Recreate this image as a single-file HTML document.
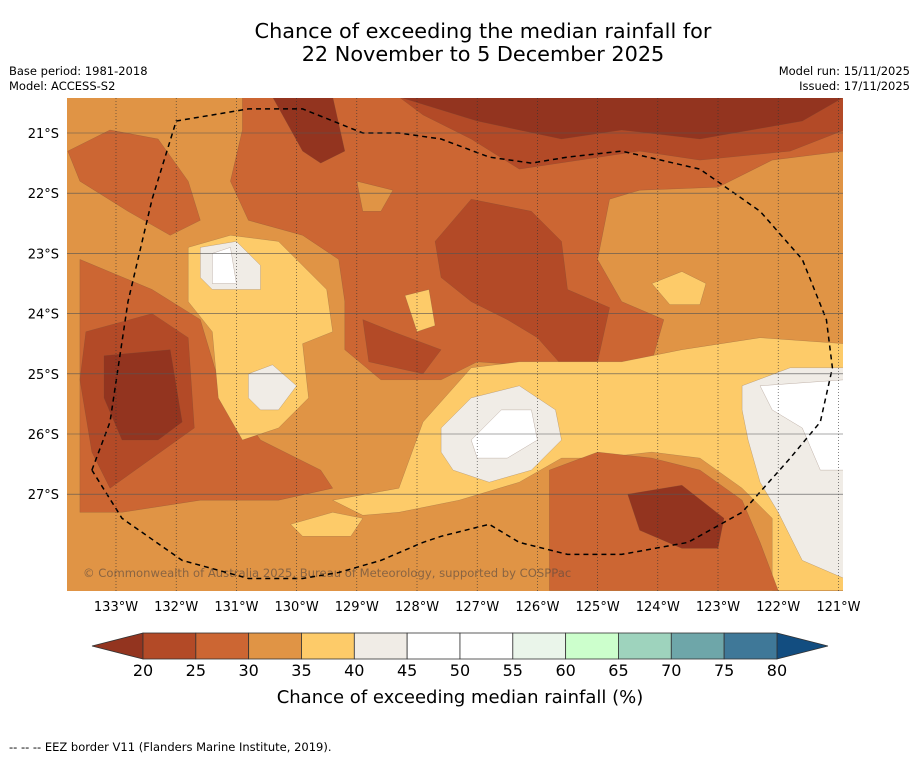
<!DOCTYPE html>
<html><head><meta charset="utf-8"><style>
body{margin:0;background:#fff;font-family:"DejaVu Sans","Liberation Sans",sans-serif}
svg{display:block}
text{font-family:"DejaVu Sans","Liberation Sans",sans-serif}
</style></head><body>
<svg id="chart" width="919" height="758" viewBox="0 0 919 758">
<text x="483" y="38" font-size="20.8" text-anchor="middle">Chance of exceeding the median rainfall for</text>
<text x="483" y="61" font-size="20.8" text-anchor="middle">22 November to 5 December 2025</text>
<text x="9" y="75" font-size="11.5">Base period: 1981-2018</text>
<text x="9" y="90" font-size="11.5">Model: ACCESS-S2</text>
<text x="910" y="75" font-size="11.5" text-anchor="end">Model run: 15/11/2025</text>
<text x="910" y="90" font-size="11.5" text-anchor="end">Issued: 17/11/2025</text>
<defs><clipPath id="mapclip"><rect x="67" y="98" width="776" height="493"/></clipPath></defs>
<g id="map" clip-path="url(#mapclip)"></g>
<g id="grid"></g>
<g id="axes"></g>
<g id="cbar"></g>
<text x="460" y="703" font-size="18" text-anchor="middle">Chance of exceeding median rainfall (%)</text>
<text x="9" y="751" font-size="11.5">--  --  -- EEZ border V11 (Flanders Marine Institute, 2019).</text>
</svg>
<script>
const lonTicks=[133,132,131,130,129,128,127,126,125,124,123,122,121];
const latTicks=[21,22,23,24,25,26,27];
const cbarLevels=[20,25,30,35,40,45,50,55,60,65,70,75,80];
const cbarColors=["#b34a27","#cc6633","#e09445","#fdcb69","#f0ece6","#ffffff","#ffffff","#eaf5ea","#ccffcc","#9ed3bd","#6ea6a9","#3f7898"];
const lowColor="#93341f", highColor="#124d80";
const regionColors=["#cc6633","#cc6633","#cc6633","#b34a27","#b34a27","#93341f","#93341f","#93341f","#b34a27","#b34a27","#e09445","#fdcb69","#fdcb69","#f0ece6","#ffffff","#f0ece6","#f0ece6","#ffffff","#f0ece6","#ffffff","#fdcb69","#fdcb69","#fdcb69","#cc6633","#93341f"];
const regions=[
[130.9,20.4,120.9,20.4,120.9,21.3,122.1,21.45,123.0,21.9,124.3,21.95,124.8,22.1,125.0,23.1,124.6,23.8,123.9,24.1,124.1,24.8,125.6,24.9,127.0,24.8,127.6,25.1,128.6,25.1,129.2,24.6,129.2,23.8,129.3,23.1,129.9,22.7,130.8,22.45,131.1,21.8,130.9,20.95],
[133.8,21.3,133.1,20.95,132.3,21.1,131.8,21.8,131.6,22.45,132.1,22.7,132.8,22.3,133.6,21.8],
[133.6,23.1,132.4,23.6,131.6,24.1,131.3,25.1,130.6,26.1,129.6,26.6,129.4,26.9,130.3,27.1,131.6,27.1,132.9,27.3,133.6,27.3],
[133.5,24.3,132.4,24.0,131.8,24.4,131.7,25.9,132.4,26.4,133.1,26.9,133.4,26.3,133.6,25.1],
[128.3,20.4,120.9,20.4,120.9,20.95,121.8,21.3,123.3,21.45,124.3,21.3,125.3,21.45,126.3,21.6,127.1,21.1,127.9,20.7],
[128.3,20.4,120.9,20.4,121.6,20.8,123.3,21.1,124.6,20.95,125.6,21.1,127.0,20.8],
[130.4,20.4,129.4,20.4,129.2,21.3,129.6,21.5,129.9,21.3],
[133.2,24.7,132.1,24.6,131.9,25.8,132.3,26.1,132.9,26.1,133.2,25.4],
[127.7,22.8,127.1,22.1,126.1,22.3,125.6,22.8,125.5,23.6,124.8,23.9,125.0,24.8,125.6,24.85,126.0,24.4,126.5,24.1,127.1,23.8,127.6,23.4],
[128.9,24.1,128.4,24.3,127.6,24.6,127.9,25.0,128.8,24.8],
[129.0,21.8,128.4,21.95,128.6,22.3,128.9,22.3],
[129.4,27.1,128.3,26.9,127.9,25.8,127.1,24.9,126.3,24.8,125.6,24.8,124.6,24.8,123.6,24.6,122.3,24.4,120.9,24.5,120.9,28.6,122.1,28.6,122.1,27.4,122.6,26.9,123.3,26.4,124.1,26.3,125.0,26.4,125.6,26.4,126.3,26.8,127.3,27.1,128.3,27.3,128.9,27.35],
[131.8,22.9,131.1,22.7,130.3,22.8,129.5,23.6,129.4,24.3,129.9,24.5,129.8,25.4,130.3,25.9,130.9,26.1,131.3,25.4,131.4,24.3,131.8,23.8],
[131.6,22.9,131.0,22.8,130.6,23.2,130.6,23.6,131.4,23.6,131.6,23.4],
[131.4,23.0,131.1,22.9,131.0,23.5,131.4,23.5],
[130.8,25.0,130.4,24.85,130.0,25.2,130.3,25.6,130.6,25.6,130.8,25.4],
[127.6,25.9,127.1,25.4,126.3,25.2,125.7,25.6,125.6,26.1,126.1,26.6,126.8,26.8,127.4,26.6,127.6,26.3],
[127.1,26.1,126.6,25.6,126.1,25.6,126.0,26.1,126.5,26.4,127.0,26.4],
[122.6,25.2,121.8,24.9,120.9,24.9,120.9,28.4,121.6,28.1,122.0,27.3,122.3,26.8,122.5,26.1,122.6,25.6],
[122.3,25.2,120.9,25.1,120.9,26.6,121.3,26.6,121.6,25.9,122.1,25.6],
[124.1,23.5,123.6,23.3,123.2,23.5,123.3,23.85,123.8,23.85],
[130.1,27.5,129.4,27.3,128.9,27.4,129.1,27.7,129.9,27.7],
[128.2,23.7,127.8,23.6,127.7,24.2,128.0,24.3],
[125.8,28.6,125.8,26.6,125.0,26.3,124.1,26.4,123.3,26.6,122.6,27.1,122.3,27.8,122.0,28.6],
[124.5,27.0,123.6,26.85,122.9,27.4,123.0,27.9,123.6,27.9,124.3,27.6]
];
const eez=[133.4,26.6,133.1,25.8,132.8,23.8,132.4,22.1,132.0,20.8,130.8,20.6,129.9,20.6,128.9,21.0,128.3,21.0,127.6,21.1,126.8,21.4,126.1,21.5,125.5,21.4,124.6,21.3,123.3,21.6,122.3,22.3,121.6,23.1,121.2,24.1,121.1,24.9,121.3,25.8,121.8,26.4,122.6,27.3,123.5,27.8,124.6,28.0,125.5,28.0,126.3,27.8,126.8,27.5,127.6,27.7,127.9,27.8,128.6,28.1,129.3,28.3,129.9,28.4,130.8,28.4,131.9,28.1,132.9,27.4,133.4,26.6];
const X=lon=>116+(133-lon)*60.2, Y=lat=>133+(lat-21)*60.2;
const NS="http://www.w3.org/2000/svg";
function mk(tag,attrs,parent){const e=document.createElementNS(NS,tag);for(const k in attrs)e.setAttribute(k,attrs[k]);parent.appendChild(e);return e;}
const pts=a=>{let s=[];for(let i=0;i<a.length;i+=2)s.push(X(a[i]).toFixed(1)+","+Y(a[i+1]).toFixed(1));return s.join(" ");};
const map=document.getElementById('map');
const bg=mk('rect',{x:67,y:98,width:776,height:493,fill:"#e09445"},map);


regions.forEach((r,i)=>{const p=mk('polygon',{points:pts(r),fill:regionColors[i],stroke:"#6b4a3a","stroke-width":0.4,"stroke-opacity":0.5},map);

});
const cp=mk('text',{x:83,y:577,"font-size":11.6,fill:"#5a4a40","fill-opacity":0.65},map);cp.textContent="© Commonwealth of Australia 2025, Bureau of Meteorology, supported by COSPPac";


const e=mk('polyline',{points:pts(eez),fill:"none",stroke:"#000","stroke-width":1.5,"stroke-dasharray":"5,4"},map);


const grid=document.getElementById('grid'),axes=document.getElementById('axes');
lonTicks.forEach(l=>{const x=X(l);
const g=mk('line',{x1:x,x2:x,y1:98,y2:591,stroke:"#333","stroke-width":0.6,"stroke-dasharray":"1,2"},grid);


const t=mk('text',{x:x,y:611,"font-size":13,"text-anchor":"middle"},axes);t.textContent=l+"°W";

});
latTicks.forEach(l=>{const y=Y(l);
const g=mk('line',{x1:67,x2:843,y1:y,y2:y,stroke:"#555","stroke-width":0.6},grid);


const t=mk('text',{x:59,y:y+5,"font-size":13,"text-anchor":"end"},axes);t.textContent=l+"°S";

});
const cb=document.getElementById('cbar');const cx0=143,cw=52.83,cy=633,ch=26;
const lo=mk('polygon',{points:`92,${cy+ch/2} ${cx0},${cy} ${cx0},${cy+ch}`,fill:lowColor,stroke:"#333","stroke-width":0.8},cb);


const xe=cx0+cw*cbarColors.length;
const hi=mk('polygon',{points:`${xe},${cy} ${xe+51},${cy+ch/2} ${xe},${cy+ch}`,fill:highColor,stroke:"#333","stroke-width":0.8},cb);


cbarColors.forEach((c,i)=>{const r=mk('rect',{x:cx0+i*cw,y:cy,width:cw,height:ch,fill:c,stroke:"#333","stroke-width":0.8},cb);

});
cbarLevels.forEach((v,i)=>{const t=mk('text',{x:cx0+i*cw,y:676,"font-size":16,"text-anchor":"middle"},cb);t.textContent=v;

});
</script>
</body></html>
